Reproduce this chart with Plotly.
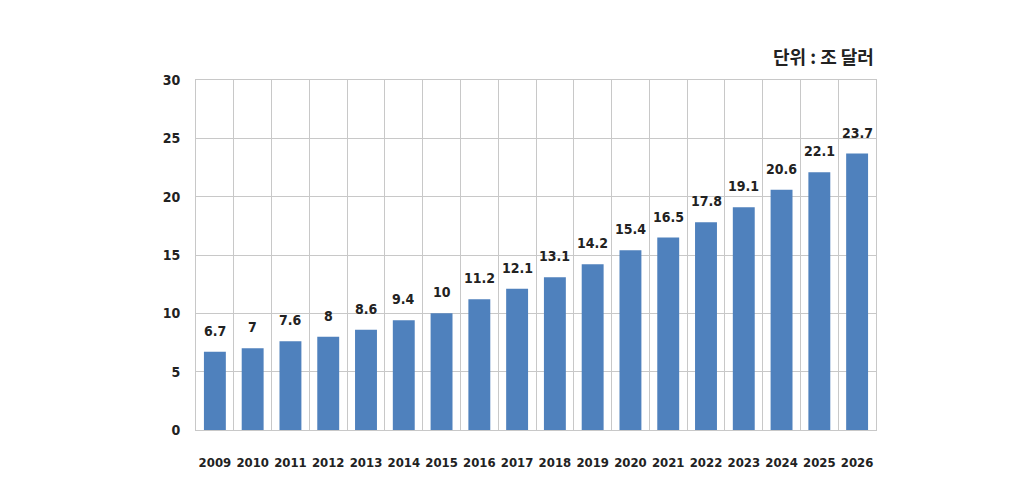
import plotly.graph_objects as go

years = [str(y) for y in range(2009, 2027)]
values = [6.7, 7, 7.6, 8, 8.6, 9.4, 10, 11.2, 12.1, 13.1, 14.2, 15.4, 16.5, 17.8, 19.1, 20.6, 22.1, 23.7]
labels = ["6.7", "7", "7.6", "8", "8.6", "9.4", "10", "11.2", "12.1", "13.1", "14.2", "15.4", "16.5", "17.8", "19.1", "20.6", "22.1", "23.7"]
unit_text = "단위 : 조 달러"

font_fam = "DejaVu Sans Condensed, DejaVu Sans, sans-serif"

fig = go.Figure(go.Bar(
    x=years, y=values,
    marker=dict(color="#4F81BD", line=dict(width=0)),
))

# value labels above each bar (category index position on the category axis)
annotations = [dict(
    x=i, y=v, text="<b>" + lb + "</b>", xref="x", yref="y",
    yanchor="bottom", yshift=11, showarrow=False,
    font=dict(family=font_fam, size=14, color="#222222"),
) for i, (v, lb) in enumerate(zip(values, labels))]

annotations.append(dict(
    text="<b>" + unit_text + "</b>", x=1, xref="paper", xanchor="right",
    y=1, yref="paper", yanchor="bottom", yshift=9, showarrow=False,
    font=dict(family="Noto Sans CJK KR", size=18, color="#222222"),
))

fig.update_layout(
    width=1025, height=492,
    margin=dict(l=196, r=149, t=80, b=62, autoexpand=False),
    plot_bgcolor="white", paper_bgcolor="white",
    bargap=0.42, showlegend=False,
    font=dict(family=font_fam, size=13, color="#222222"),
    annotations=annotations,
)
fig.update_xaxes(
    type="category", range=[-0.5, 17.5], tickson="boundaries",
    showgrid=True, gridcolor="#c8c8c8", gridwidth=1,
    showline=True, linecolor="#c8c8c8", mirror=True,
    ticks="", ticklabelstandoff=20, tickangle=0, automargin=False,
    tickfont=dict(family=font_fam, size=13, color="#222222", weight="bold"),
)
fig.update_yaxes(
    range=[0, 30], dtick=5, showgrid=True, gridcolor="#c8c8c8", gridwidth=1,
    showline=True, linecolor="#c8c8c8", mirror=True, zeroline=False,
    ticks="", ticklabelstandoff=12, automargin=False,
    tickfont=dict(family=font_fam, size=14, color="#222222", weight="bold"),
)

fig.write_html("out.html")
